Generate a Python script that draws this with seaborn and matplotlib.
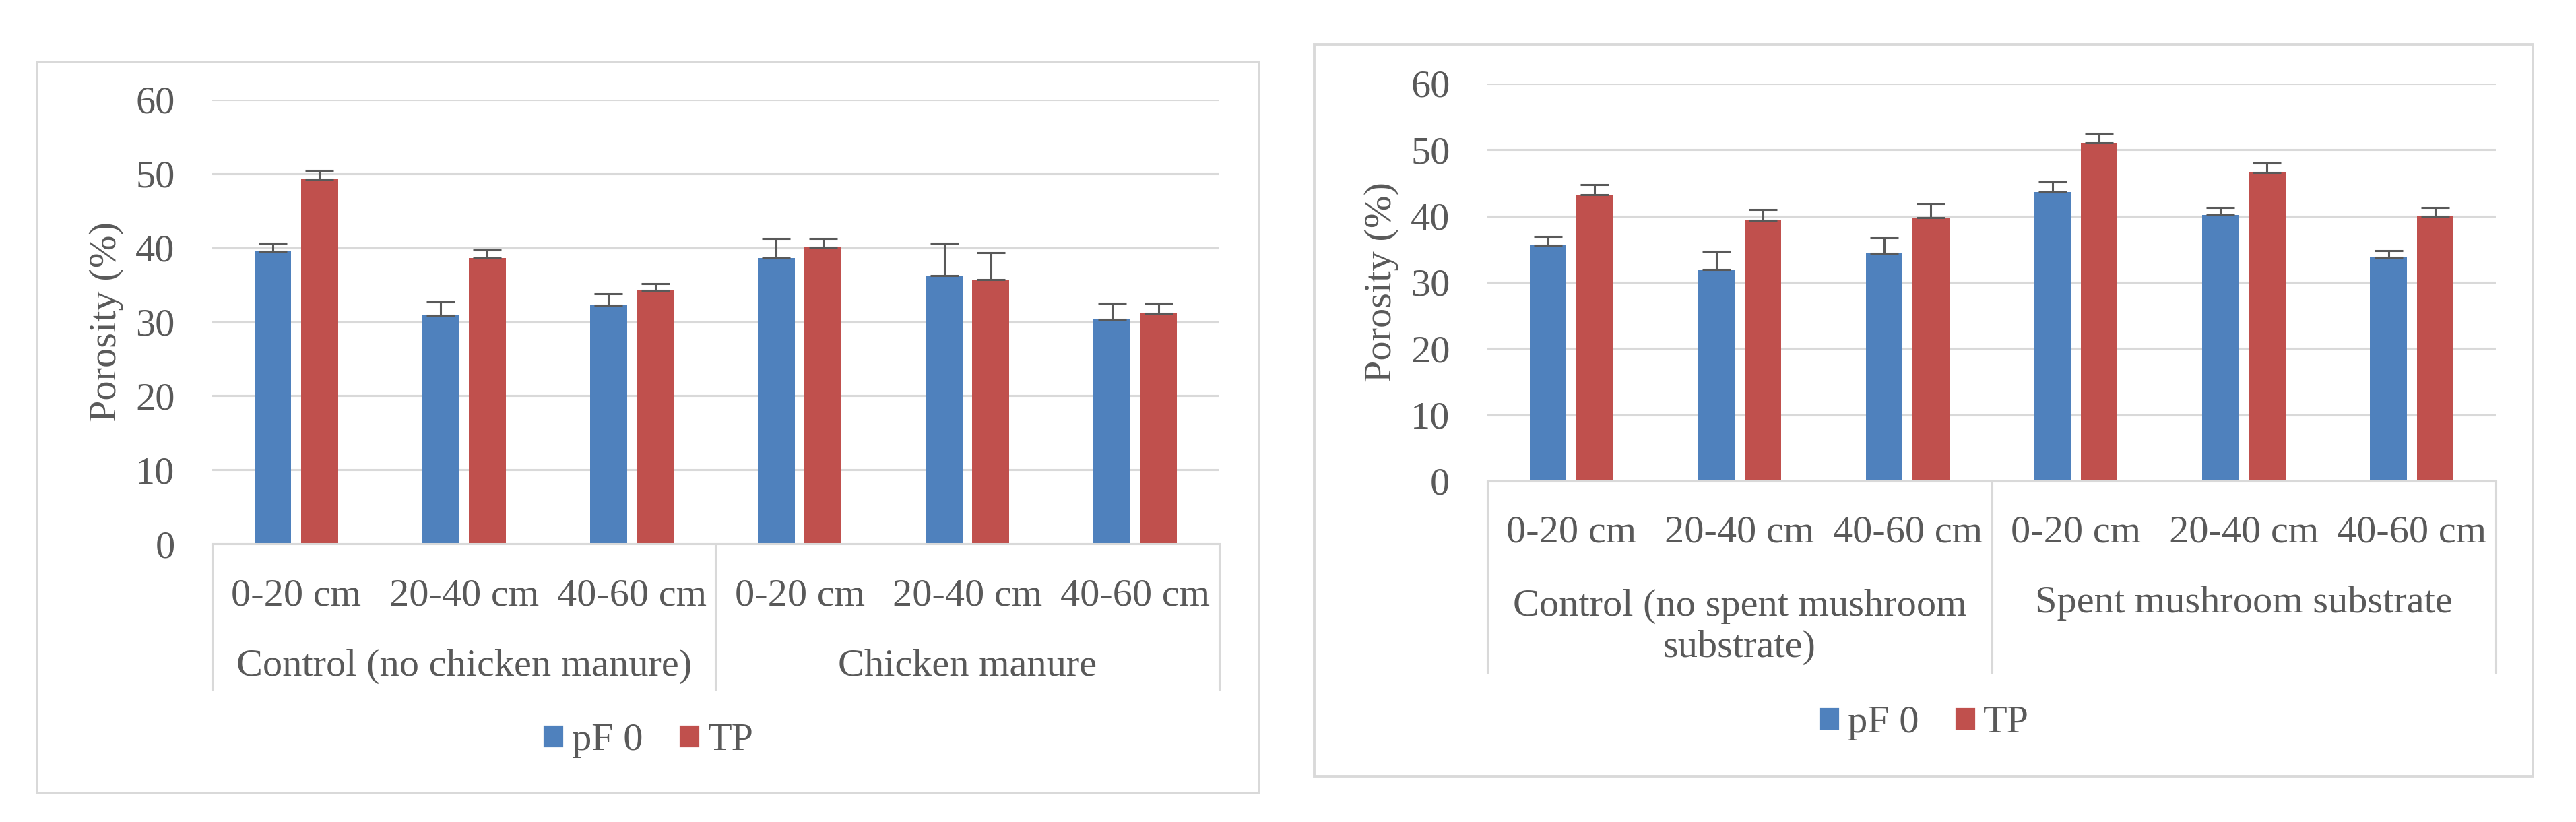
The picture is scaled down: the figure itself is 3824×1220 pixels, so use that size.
"""
Porosity (pF 0 vs TP) by depth for two amendment trials, Excel-style bars.
"""

import matplotlib.pyplot as plt
import pandas as pd
import seaborn as sns
from matplotlib.patches import Patch, Rectangle
from matplotlib.transforms import blended_transform_factory

# ─── Data ────────────────────────────────────────────────────────────────

DEPTHS = ["0-20 cm", "20-40 cm", "40-60 cm"]
SERIES = ["pF 0", "TP"]

LEFT_GROUPS = ["Control (no chicken manure)", "Chicken manure"]
LEFT_PF0 = [39.5, 30.9, 32.2, 38.6, 36.2, 30.3]
LEFT_PF0_ERR = [1.1, 1.8, 1.6, 2.6, 4.4, 2.2]
LEFT_TP = [49.3, 38.6, 34.2, 40.1, 35.7, 31.1]
LEFT_TP_ERR = [1.1, 1.1, 0.9, 1.1, 3.6, 1.4]

RIGHT_GROUPS = ["Control (no spent mushroom\nsubstrate)", "Spent mushroom substrate"]
RIGHT_PF0 = [35.6, 31.9, 34.4, 43.6, 40.2, 33.8]
RIGHT_PF0_ERR = [1.3, 2.8, 2.3, 1.5, 1.1, 1.0]
RIGHT_TP = [43.2, 39.3, 39.8, 51.0, 46.6, 40.0]
RIGHT_TP_ERR = [1.5, 1.7, 2.0, 1.5, 1.4, 1.3]

Y_TICKS = [0, 10, 20, 30, 40, 50, 60]
Y_LABEL = "Porosity (%)"

# ─── Style ───────────────────────────────────────────────────────────────

BLUE = "#4F81BD"
RED = "#C0504D"
TEXT = "#595959"
GRID = "#D9D9D9"
ERR = "#595959"
FS = 21

sns.set_style("white")
plt.rcParams["font.family"] = ["Liberation Serif", "DejaVu Serif"]
plt.rcParams["text.color"] = TEXT


def draw_panel(fig, rect, groups, pf0, pf0_err, tp, tp_err,
               depth_y, group_y, sep_y, legend_y, frame):
    ax = fig.add_axes(rect)

    n = len(pf0)
    df = pd.DataFrame({
        "slot": list(range(n)) * 2,
        "series": [SERIES[0]] * n + [SERIES[1]] * n,
        "value": list(pf0) + list(tp),
    })
    sns.barplot(
        data=df, x="slot", y="value", hue="series", hue_order=SERIES,
        palette=[BLUE, RED], saturation=1, width=0.556, gap=0.21,
        errorbar=None, linewidth=0, legend=False, ax=ax,
    )

    # upper-only error bars, centred on each bar
    for cont, vals, errs in zip(ax.containers, [pf0, tp], [pf0_err, tp_err]):
        xs = [p.get_x() + p.get_width() / 2 for p in cont.patches]
        ax.errorbar(xs, vals, yerr=[[0] * len(errs), errs], fmt="none",
                    ecolor=ERR, elinewidth=1.1, capsize=7.5, capthick=1.1,
                    zorder=3)

    ax.set_xlim(-0.5, n - 0.5)
    ax.set_ylim(0, 60)
    ax.set_yticks(Y_TICKS)
    ax.tick_params(axis="y", length=0, pad=20, labelsize=FS, labelcolor=TEXT)
    ax.set_xticks([])
    ax.set_xlabel("")
    ax.set_ylabel(Y_LABEL, fontsize=FS, color=TEXT)
    ax.yaxis.set_label_coords(-0.0876, 0.5)

    ax.yaxis.grid(True, color=GRID, linewidth=1.1)
    ax.set_axisbelow(True)
    for side in ("left", "right", "top"):
        ax.spines[side].set_visible(False)
    ax.spines["bottom"].set_color(GRID)
    ax.spines["bottom"].set_linewidth(1.1)

    # two-level category axis
    tr = blended_transform_factory(ax.transData, ax.transAxes)
    for i in range(n):
        ax.text(i, depth_y, DEPTHS[i % 3], transform=tr, ha="center",
                va="center", fontsize=FS, color=TEXT)
    for g, (label, gy) in enumerate(zip(groups, group_y)):
        ax.text(g * 3 + 1, gy, label, transform=tr, ha="center",
                va="center", fontsize=FS, color=TEXT, multialignment="center")
    for xs in (-0.5, 2.5, 5.5):
        ax.plot([xs, xs], [0, sep_y], transform=tr, color=GRID,
                linewidth=1.1, clip_on=False)

    handles = [Patch(facecolor=BLUE), Patch(facecolor=RED)]
    fx0, fy0, fw, fh = frame
    ax.legend(handles, SERIES, loc="center", ncol=2, frameon=False,
              bbox_to_anchor=(fx0 + fw / 2, legend_y),
              bbox_transform=fig.transFigure, fontsize=FS,
              handlelength=0.55, handleheight=0.55, handletextpad=0.2,
              columnspacing=0.9, labelcolor=TEXT)

    fig.add_artist(Rectangle((fx0, fy0), fw, fh, transform=fig.transFigure,
                             fill=False, edgecolor=GRID, linewidth=1.4))
    return ax


fig = plt.figure(figsize=(19.12, 6.1), dpi=200)

draw_panel(fig, [0.0824, 0.3385, 0.3909, 0.5402], LEFT_GROUPS,
           LEFT_PF0, LEFT_PF0_ERR, LEFT_TP, LEFT_TP_ERR,
           depth_y=-0.117, group_y=[-0.276, -0.276], sep_y=-0.329,
           legend_y=0.0992, frame=(0.0144, 0.0352, 0.4744, 0.8893))

draw_panel(fig, [0.5774, 0.4148, 0.3915, 0.4836], RIGHT_GROUPS,
           RIGHT_PF0, RIGHT_PF0_ERR, RIGHT_TP, RIGHT_TP_ERR,
           depth_y=-0.129, group_y=[-0.367, -0.307], sep_y=-0.483,
           legend_y=0.1205, frame=(0.5102, 0.0557, 0.4731, 0.8902))

fig.savefig("out.png", dpi=200)
